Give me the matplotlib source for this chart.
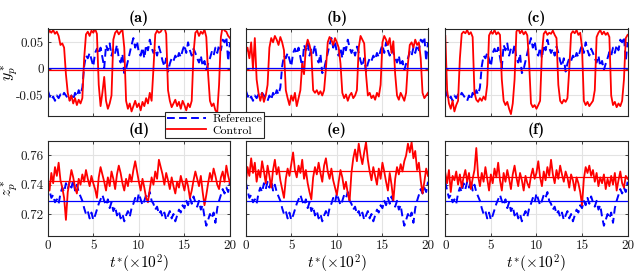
import numpy as np
import matplotlib
matplotlib.use("Agg")
import matplotlib.pyplot as plt
from matplotlib.lines import Line2D

plt.rcParams['font.family'] = 'serif'
plt.rcParams['font.serif'] = ['cmr10']
plt.rcParams['mathtext.fontset'] = 'cm'
plt.rcParams['axes.unicode_minus'] = False
plt.rcParams['axes.formatter.use_mathtext'] = False

# ---------------- data ----------------
t = np.linspace(0, 20, 101)

# top row: y_p^*
yp_ref = [-0.040, -0.050, -0.058, -0.052, -0.060, -0.050, -0.055, -0.048, -0.052, -0.045,
          -0.050, -0.055, -0.060, -0.050, -0.058, -0.045, -0.052, -0.040, -0.048, -0.035,
          0.005, 0.025, 0.020, 0.030, 0.018, 0.005, 0.030, 0.038, 0.028, 0.040,
          0.022, 0.002, 0.045, 0.035, 0.048, 0.025, 0.038, 0.030, 0.045, 0.020,
          0.012, 0.028, -0.008, 0.000, 0.015, 0.030, 0.045, 0.058, 0.040, 0.052,
          0.030, 0.025, 0.040, 0.020, 0.045, 0.035, 0.055, 0.040, 0.030, 0.038,
          0.025, 0.042, 0.030, 0.015, 0.005, 0.020, -0.005, 0.010, 0.020, 0.015,
          0.025, 0.018, 0.030, 0.022, 0.035, 0.045, 0.030, 0.050, 0.035, 0.025,
          0.038, 0.030, 0.020, 0.012, 0.025, 0.005, 0.015, -0.002, 0.010, 0.020,
          0.032, 0.025, 0.040, 0.030, 0.045, 0.035, 0.055, 0.050, 0.060, 0.015,
          0.050]

yp_ctrl_a = [0.065, 0.072, 0.068, 0.073, 0.066, 0.070, 0.062, 0.045, 0.048, 0.040,
             -0.010, -0.045, -0.060, -0.050, -0.065, -0.055, -0.068, -0.058, -0.065, -0.055,
             0.020, 0.065, 0.070, 0.062, 0.072, 0.068, 0.075, 0.066, -0.030, -0.070,
             -0.045, -0.015, -0.060, -0.075, -0.065, -0.050, 0.055, 0.068, 0.072, 0.065,
             0.070, 0.074, 0.040, -0.060, -0.075, -0.065, -0.080, -0.070, -0.060, -0.072,
             -0.065, -0.078, -0.062, -0.070, -0.055, -0.065, -0.045, -0.060, 0.000, 0.065,
             0.072, 0.068, 0.070, 0.076, 0.078, 0.066, -0.040, -0.060, -0.072, -0.065,
             -0.058, -0.070, -0.062, -0.075, -0.060, -0.068, -0.078, -0.065, -0.072, -0.060,
             0.030, 0.068, 0.072, 0.062, 0.070, 0.066, 0.074, 0.060, -0.010, -0.060,
             -0.070, -0.065, -0.078, -0.082, -0.030, 0.060, 0.080, 0.072, 0.070, 0.062,
             0.058]

yp_ctrl_b = [0.030, 0.040, 0.020, 0.050, 0.000, 0.058, -0.020, -0.045, -0.060, -0.045,
             -0.062, -0.050, -0.030, 0.040, 0.058, 0.050, 0.062, 0.055, 0.045, 0.060,
             0.050, 0.035, -0.040, -0.055, -0.068, -0.050, -0.060, -0.045, -0.070, -0.055,
             -0.040, 0.010, -0.010, 0.040, 0.055, 0.045, 0.030, -0.040, -0.045, -0.040,
             -0.048, -0.042, -0.050, -0.040, 0.000, 0.050, 0.060, 0.055, 0.045, 0.058,
             0.050, 0.040, 0.010, -0.045, -0.055, -0.048, -0.060, -0.050, -0.045, -0.055,
             -0.050, -0.040, 0.040, 0.062, 0.055, 0.048, -0.010, -0.050, -0.045, -0.055,
             -0.050, -0.058, -0.045, -0.052, -0.030, 0.050, 0.062, 0.055, 0.045, 0.058,
             0.030, 0.052, -0.010, -0.050, -0.058, -0.045, -0.052, -0.060, -0.045, 0.010,
             0.045, 0.050, 0.040, 0.055, 0.045, 0.050, 0.020, -0.045, -0.055, -0.050,
             -0.045]

yp_ctrl_c = [0.062, -0.040, -0.065, -0.075, -0.060, -0.080, -0.068, -0.060, 0.020, 0.066,
             0.070, 0.067, 0.073, 0.065, 0.069, 0.060, -0.045, -0.058, -0.062, -0.055,
             -0.060, -0.052, -0.058, -0.030, 0.063, 0.070, 0.066, 0.073, 0.065, 0.069,
             0.064, -0.020, -0.060, -0.068, -0.062, -0.075, -0.085, -0.065, -0.020, 0.070,
             0.076, 0.067, 0.072, 0.065, 0.070, 0.063, 0.010, -0.065, -0.072, -0.068,
             -0.075, -0.068, -0.060, 0.030, 0.066, 0.071, 0.064, 0.068, 0.066, 0.072,
             0.064, 0.058, -0.030, -0.060, -0.065, -0.058, -0.062, -0.055, 0.000, 0.066,
             0.071, 0.067, 0.073, 0.064, 0.068, 0.040, -0.060, -0.068, -0.062, -0.070,
             -0.065, -0.060, -0.040, 0.060, 0.068, 0.073, 0.065, 0.070, 0.064, 0.068,
             0.060, -0.050, -0.068, -0.062, -0.072, -0.065, -0.070, -0.060, -0.020, 0.058,
             0.064]

# bottom row: z_p^*
zp_ref = [0.742, 0.736, 0.731, 0.733, 0.728, 0.730, 0.727, 0.734, 0.738, 0.735,
          0.741, 0.737, 0.742, 0.738, 0.743, 0.736, 0.740, 0.735, 0.732, 0.729,
          0.724, 0.720, 0.722, 0.717, 0.721, 0.716, 0.719, 0.723, 0.727, 0.730,
          0.733, 0.729, 0.726, 0.730, 0.724, 0.728, 0.722, 0.725, 0.719, 0.722,
          0.717, 0.720, 0.715, 0.719, 0.722, 0.718, 0.724, 0.727, 0.731, 0.728,
          0.734, 0.730, 0.726, 0.729, 0.733, 0.731, 0.735, 0.729, 0.727, 0.723,
          0.725, 0.720, 0.722, 0.718, 0.721, 0.716, 0.719, 0.722, 0.717, 0.720,
          0.715, 0.719, 0.723, 0.721, 0.726, 0.724, 0.729, 0.726, 0.731, 0.727,
          0.732, 0.728, 0.725, 0.729, 0.723, 0.726, 0.718, 0.712, 0.716, 0.720,
          0.717, 0.721, 0.714, 0.724, 0.729, 0.733, 0.737, 0.734, 0.738, 0.735,
          0.742]

zp_ctrl_d = [0.744, 0.736, 0.748, 0.741, 0.752, 0.746, 0.755, 0.743, 0.738, 0.731,
             0.716, 0.735, 0.742, 0.750, 0.745, 0.738, 0.734, 0.744, 0.740, 0.747,
             0.742, 0.750, 0.744, 0.739, 0.746, 0.741, 0.737, 0.731, 0.745, 0.752,
             0.747, 0.742, 0.736, 0.745, 0.739, 0.749, 0.744, 0.737, 0.747, 0.753,
             0.748, 0.741, 0.736, 0.744, 0.739, 0.747, 0.742, 0.750, 0.756, 0.749,
             0.742, 0.736, 0.744, 0.738, 0.731, 0.728, 0.737, 0.745, 0.740, 0.749,
             0.744, 0.757, 0.752, 0.747, 0.740, 0.748, 0.743, 0.737, 0.745, 0.739,
             0.734, 0.742, 0.738, 0.746, 0.741, 0.736, 0.744, 0.739, 0.731, 0.736,
             0.743, 0.749, 0.744, 0.739, 0.746, 0.735, 0.726, 0.733, 0.741, 0.748,
             0.743, 0.751, 0.746, 0.740, 0.737, 0.745, 0.749, 0.742, 0.753, 0.746,
             0.741]

zp_ctrl_e = [0.740, 0.752, 0.746, 0.758, 0.748, 0.755, 0.742, 0.750, 0.745, 0.756,
             0.749, 0.741, 0.753, 0.746, 0.738, 0.750, 0.757, 0.747, 0.752, 0.743,
             0.737, 0.731, 0.744, 0.751, 0.746, 0.754, 0.762, 0.750, 0.745, 0.753,
             0.748, 0.757, 0.744, 0.750, 0.741, 0.735, 0.730, 0.745, 0.752, 0.747,
             0.755, 0.748, 0.742, 0.753, 0.758, 0.749, 0.744, 0.751, 0.743, 0.738,
             0.733, 0.742, 0.750, 0.745, 0.737, 0.742, 0.734, 0.729, 0.748, 0.758,
             0.764, 0.756, 0.768, 0.760, 0.754, 0.762, 0.769, 0.757, 0.749, 0.743,
             0.752, 0.746, 0.740, 0.751, 0.744, 0.755, 0.749, 0.742, 0.736, 0.748,
             0.740, 0.729, 0.744, 0.752, 0.747, 0.754, 0.749, 0.756, 0.760, 0.768,
             0.762, 0.769, 0.758, 0.763, 0.750, 0.755, 0.743, 0.734, 0.742, 0.751,
             0.746]

zp_ctrl_f = [0.748, 0.741, 0.750, 0.735, 0.746, 0.743, 0.749, 0.740, 0.747, 0.738,
             0.745, 0.750, 0.742, 0.748, 0.737, 0.744, 0.750, 0.765, 0.746, 0.739,
             0.748, 0.742, 0.752, 0.744, 0.736, 0.747, 0.741, 0.751, 0.745, 0.755,
             0.743, 0.736, 0.748, 0.742, 0.750, 0.744, 0.737, 0.747, 0.753, 0.745,
             0.739, 0.748, 0.743, 0.736, 0.746, 0.741, 0.738, 0.746, 0.751, 0.744,
             0.748, 0.756, 0.745, 0.739, 0.749, 0.743, 0.752, 0.746, 0.757, 0.747,
             0.741, 0.750, 0.744, 0.753, 0.747, 0.742, 0.749, 0.745, 0.738, 0.747,
             0.743, 0.736, 0.745, 0.741, 0.735, 0.726, 0.744, 0.752, 0.748, 0.753,
             0.746, 0.750, 0.742, 0.748, 0.739, 0.745, 0.741, 0.747, 0.737, 0.744,
             0.739, 0.746, 0.740, 0.748, 0.736, 0.743, 0.749, 0.741, 0.738, 0.746,
             0.744]

# mean (horizontal reference) levels
yp_ref_mean = 0.0022
yp_ctrl_mean = [-0.0022, -0.0022, -0.0022]
zp_ref_mean = 0.7288
zp_ctrl_mean = [0.7422, 0.7492, 0.7452]

panel_labels = ['(a)', '(b)', '(c)', '(d)', '(e)', '(f)']
yp_ticks = [-0.05, 0, 0.05]
yp_ticklabels = ['-0.05', '0', '0.05']
zp_ticks = [0.72, 0.74, 0.76]
zp_ticklabels = ['0.72', '0.74', '0.76']
t_ticks = [0, 5, 10, 15, 20]
t_ticklabels = ['0', '5', '10', '15', '20']

# ---------------- figure ----------------
W, H = 634, 275
fig = plt.figure(figsize=(W / 100, H / 100), dpi=100)

lefts = [47.7, 245.7, 445.3]
pw = 182.3
top_row = (28.5, 115.7)
bot_row = (140.7, 236.0)

RED = '#ff0000'
BLUE = '#0000ff'
GRID = '#e3e3e3'
SPINE = '#262626'

def make_ax(left, rows):
    top, bottom = rows
    return fig.add_axes([left / W, 1 - bottom / H, pw / W, (bottom - top) / H])

def style(ax):
    ax.set_xlim(0, 20)
    ax.grid(True, color=GRID, linewidth=0.8)
    ax.set_axisbelow(True)
    for s in ax.spines.values():
        s.set_color(SPINE)
        s.set_linewidth(0.8)
    ax.tick_params(direction='in', length=2.5, width=0.6, colors=SPINE,
                   labelcolor='#1a1a1a', labelsize=9.5, top=True, right=True, pad=3)
    ax.set_xticks(t_ticks)

ctrl_top = [yp_ctrl_a, yp_ctrl_b, yp_ctrl_c]
ctrl_bot = [zp_ctrl_d, zp_ctrl_e, zp_ctrl_f]
DASH = (4.0, 2.2)

for i in range(3):
    ax = make_ax(lefts[i], top_row)
    style(ax)
    ax.plot(t, yp_ref, color=BLUE, lw=1.4, dashes=DASH)
    ax.plot(t, ctrl_top[i], color=RED, lw=1.3)
    ax.axhline(yp_ref_mean, color=BLUE, lw=0.9)
    ax.axhline(yp_ctrl_mean[i], color=RED, lw=0.9)
    ax.set_ylim(-0.088, 0.076)
    ax.set_yticks(yp_ticks)
    ax.set_xticklabels([])
    if i == 0:
        ax.set_yticklabels(yp_ticklabels)
        ax.set_ylabel(r'$y_p^*$', fontsize=11.5)
        ax.yaxis.set_label_coords(-0.15, 0.5)
    else:
        ax.set_yticklabels([])
    ax.set_title(panel_labels[i], fontfamily='cmb10', fontsize=11.5, pad=5)

for i in range(3):
    ax = make_ax(lefts[i], bot_row)
    style(ax)
    ax.plot(t, zp_ref, color=BLUE, lw=1.4, dashes=DASH)
    ax.plot(t, ctrl_bot[i], color=RED, lw=1.3)
    ax.axhline(zp_ref_mean, color=BLUE, lw=0.9)
    ax.axhline(zp_ctrl_mean[i], color=RED, lw=0.9)
    ax.set_ylim(0.705, 0.77)
    ax.set_yticks(zp_ticks)
    ax.set_xticklabels(t_ticklabels)
    if i == 0:
        ax.set_yticklabels(zp_ticklabels)
        ax.set_ylabel(r'$z_p^*$', fontsize=11.5)
        ax.yaxis.set_label_coords(-0.15, 0.5)
    else:
        ax.set_yticklabels([])
    ax.set_xlabel(r'$t^{*}(\times 10^2)$', fontsize=11)
    ax.xaxis.set_label_coords(0.5, -0.175)
    ax.set_title(panel_labels[3 + i], fontfamily='cmb10', fontsize=11.5, pad=5)

handles = [Line2D([], [], color=BLUE, lw=1.4, dashes=DASH),
           Line2D([], [], color=RED, lw=1.3)]
leg = fig.legend(handles, ['Reference', 'Control'], loc='upper left',
                 bbox_to_anchor=(165 / W, 1 - 111.5 / H), fontsize=8.5,
                 frameon=True, fancybox=False, edgecolor='#262626',
                 framealpha=1, borderpad=0.2, labelspacing=0.1,
                 handlelength=3.3, handletextpad=0.5, borderaxespad=0)
leg.get_frame().set_linewidth(0.8)

fig.savefig('out.png', dpi=100)
